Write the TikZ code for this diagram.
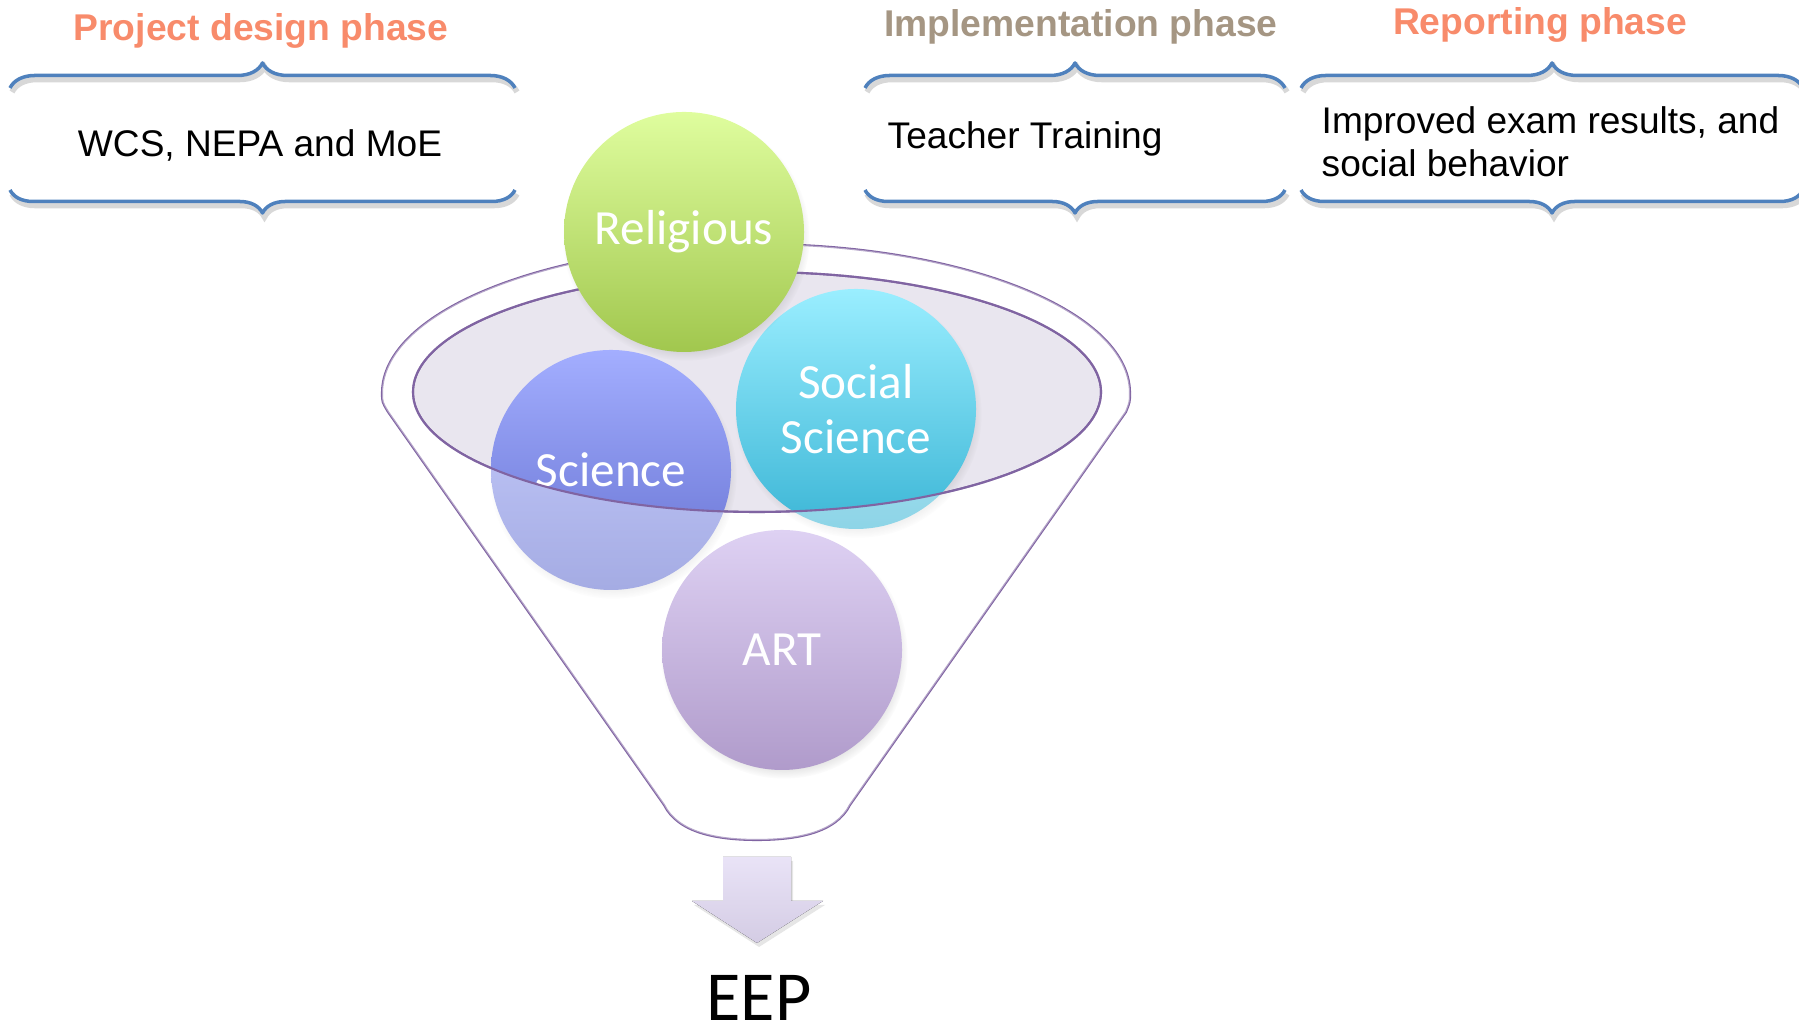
\documentclass[tikz,border=0pt]{standalone}
\usepackage{fontspec}
\setmainfont{Liberation Sans}
\newfontfamily\carlito{Carlito}
\usetikzlibrary{decorations.pathreplacing,shadows}

\definecolor{bracecol}{HTML}{4F81BD}
\definecolor{funnelcol}{HTML}{8064A2}
\definecolor{rimfill}{HTML}{E9E6EF}
\definecolor{salmon}{HTML}{F88B6B}
\definecolor{tan}{HTML}{A59683}

\newcommand{\funnelshape}{(3.82,6.36) arc[start angle=180, end angle=0, x radius=3.74, y radius=1.49]
	.. controls (11.30,6.27) .. (11.26,6.17) -- (8.50,2.24)
	.. controls (8.36,1.96) and (7.97,1.89) .. (7.57,1.89)
	.. controls (7.17,1.89) and (6.78,1.96) .. (6.64,2.24) -- (3.88,6.17)
	.. controls (3.82,6.27) .. cycle}

\begin{document}
\begin{tikzpicture}[
	phase/.style={font=\bfseries\fontsize{10.6}{12.7}\selectfont, anchor=base, inner sep=0pt},
	body/.style={font=\fontsize{10.55}{12.5}\selectfont, inner sep=0pt, align=left},
	brc/.style={decorate, decoration={brace, amplitude=0.25cm}, draw=bracecol, line width=1pt, line join=round},
	brcmirror/.style={decorate, decoration={brace, mirror, amplitude=0.23cm}, draw=bracecol, line width=1pt, line join=round},
	brcshade/.style={draw=black!30, opacity=0.5, line width=1.6pt, shift={(0.02,-0.04)}},
	ball/.style={circle, minimum size=2.4cm, inner sep=0pt, text=white, align=center,
		font=\carlito\fontsize{14}{15.6}\selectfont,
		circular drop shadow={shadow xshift=0.02cm, shadow yshift=-0.05cm, shadow scale=1.03, opacity=0.35}},
	]
	\useasboundingbox (0,0) rectangle (17.99,10.29);

	% phase titles and braces
	\node[phase, text=salmon] (design) at (2.61,9.88) {Project design phase};
	\node[phase, text=tan] (impl) at (10.81,9.92) {Implementation phase};
	\node[phase, text=salmon] (report) at (15.40,9.94) {Reporting phase};

	\foreach \xa/\xb in {0.10/5.15, 8.65/12.85, 13.01/18.03} {
		\draw[brcshade, decorate, decoration={brace, amplitude=0.25cm}] (\xa,9.41) -- (\xb,9.41);
		\draw[brc] (\xa,9.41) -- (\xb,9.41);
		\draw[brcshade, decorate, decoration={brace, mirror, amplitude=0.23cm}] (\xa,8.39) -- (\xb,8.39);
		\draw[brcmirror] (\xa,8.39) -- (\xb,8.39);
	}

	\node[body, anchor=base] (actors) at (2.60,8.72) {WCS, NEPA and MoE};
	\node[body, anchor=base west] (training) at (8.87,8.80) {Teacher Training};
	\node[body, anchor=base west] (results) at (13.21,8.52) {Improved exam results, and\\social behavior};

	% funnel
	\draw[funnelcol, line width=0.6pt, fill=white] \funnelshape;
	\draw[funnelcol, line width=0.6pt, fill=rimfill] (7.57,6.37) ellipse [x radius=3.44, y radius=1.20];

	\node[ball, top color={rgb,255:red,163;green,174;blue,255}, bottom color={rgb,255:red,100;green,112;blue,208}] (sci) at (6.11,5.59) {Science};
	\node[ball, top color={rgb,255:red,154;green,238;blue,255}, bottom color={rgb,255:red,60;green,182;blue,214}] (social) at (8.56,6.20) {Social\\Science};

	\fill[white, opacity=0.42, even odd rule] \funnelshape (7.57,6.37) ellipse [x radius=3.44, y radius=1.20];
	\draw[funnelcol, line width=0.6pt] (7.57,6.37) ellipse [x radius=3.44, y radius=1.20];

	\node[ball, top color={rgb,255:red,223;green,253;blue,158}, bottom color={rgb,255:red,161;green,199;blue,78}] (relig) at (6.84,7.97) {Religious};
	\node[ball, top color={rgb,255:red,222;green,209;blue,243}, bottom color={rgb,255:red,176;green,155;blue,203}] (art) at (7.82,3.79) {ART};

	% outlet arrow
	\fill[top color={rgb,255:red,233;green,227;blue,247}, bottom color={rgb,255:red,212;green,204;blue,228},
		drop shadow={shadow xshift=0.02cm, shadow yshift=-0.04cm, opacity=0.2}]
		(7.23,1.72) -- (7.91,1.72) -- (7.91,1.28) -- (8.23,1.28) -- (7.57,0.86) -- (6.92,1.28) -- (7.23,1.28) -- cycle;
	\node[font=\carlito\fontsize{20}{24}\selectfont, anchor=base, inner sep=0pt] (eep) at (7.59,0.08) {EEP};
\end{tikzpicture}
\end{document}
